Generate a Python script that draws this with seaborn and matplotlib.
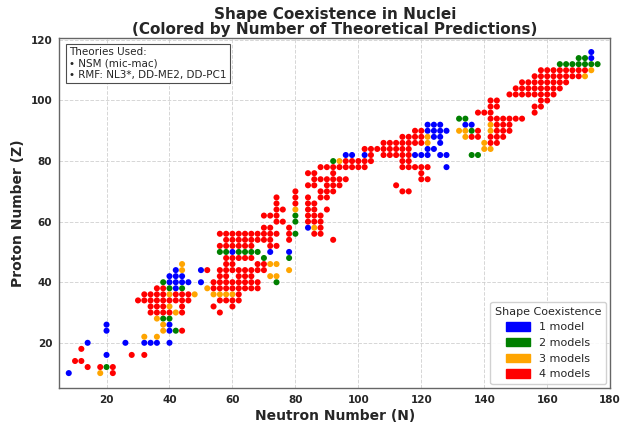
import pandas as pd
import seaborn as sns
import matplotlib.pyplot as plt
from matplotlib.patches import Patch

# Even-even nuclei showing shape coexistence, rows keyed by proton number Z,
# values are neutron numbers N.  One dict per number of agreeing models.
ONE_MODEL = {
    10: [8], 16: [20], 20: [14, 26, 32, 34, 36, 40], 24: [20, 40], 26: [20, 40],
    38: [42], 40: [40, 42, 44, 46, 50], 42: [40, 42, 44], 44: [42, 50],
    50: [60, 72, 78], 58: [84], 78: [128],
    82: [96, 98, 102, 118, 120, 122, 126, 128], 84: [122, 124], 86: [126],
    88: [124, 126], 90: [122, 124, 126, 128], 92: [122, 124, 126, 134, 136],
    114: [174], 116: [174],
}
TWO_MODELS = {
    12: [20], 24: [42], 28: [38, 40], 38: [40, 44], 40: [38, 74], 48: [70, 78],
    50: [56, 58, 62, 64, 66, 68], 56: [80], 60: [80], 62: [80], 80: [92],
    82: [136, 138], 90: [136], 94: [132, 134],
    112: [164, 166, 168, 170, 172, 174, 176], 114: [170, 172],
}
THREE_MODELS = {
    10: [18], 22: [32, 36], 24: [38], 26: [38], 28: [36], 30: [42], 32: [40],
    36: [40, 48, 54, 56, 58, 60], 38: [52], 42: [72, 74], 44: [44, 78],
    46: [44, 72, 74], 58: [86], 64: [80], 80: [94], 84: [140, 142],
    86: [122, 140], 88: [122, 134], 90: [132, 134, 142], 92: [142],
    108: [172], 110: [174],
}
FOUR_MODELS = {
    10: [22], 12: [14, 18, 22], 14: [10, 12], 16: [28, 32], 18: [12], 24: [44],
    30: [34, 36, 38, 40, 44, 56],
    32: [34, 36, 38, 44, 54, 60],
    34: [30, 32, 34, 36, 38, 40, 42, 44, 46, 56, 58, 60, 62],
    36: [32, 34, 36, 38, 42, 44, 46, 62],
    38: [36, 38, 54, 56, 58, 60, 62, 64, 66, 68],
    40: [54, 56, 58, 60, 62, 64, 66, 68],
    42: [56, 58, 62, 64, 66],
    44: [52, 56, 58, 60, 62, 64, 66, 68, 70],
    46: [58, 60, 68, 70],
    48: [58, 60, 62, 64, 66],
    52: [56, 58, 60, 62, 64, 66, 72, 74],
    54: [58, 60, 62, 64, 66, 68, 70, 72, 78, 92],
    56: [56, 58, 60, 62, 64, 66, 68, 70, 72, 74, 78, 86, 88],
    58: [70, 72, 78, 88],
    60: [74, 76, 84, 86, 88],
    62: [70, 72, 74, 84, 86, 88],
    64: [74, 76, 84, 86, 90],
    66: [74, 80, 84, 86],
    68: [74, 80, 84, 88, 90],
    70: [80, 88, 90, 92, 114, 116],
    72: [84, 86, 90, 92, 94, 112],
    74: [86, 88, 90, 92, 94, 96, 120, 122],
    76: [84, 86, 92, 120],
    78: [88, 90, 92, 94, 96, 98, 100, 102, 114, 116, 118, 120, 122],
    80: [96, 98, 100, 102, 104, 114, 116],
    82: [104, 108, 110, 112, 114, 116],
    84: [102, 104, 106, 108, 110, 112, 114, 116],
    86: [108, 110, 112, 114, 116, 118, 120, 142, 144],
    88: [114, 116, 118, 120, 136, 138, 142, 144, 146],
    90: [118, 120, 138, 144, 146, 148],
    92: [144, 146, 148],
    94: [142, 144, 146, 148, 150, 152],
    96: [138, 140, 142, 156],
    98: [142, 144, 156, 158],
    100: [142, 144, 158, 160],
    102: [148, 150, 152, 154, 156, 158, 160, 162],
    104: [150, 152, 154, 156, 158, 160, 162, 164],
    106: [152, 154, 156, 158, 160, 162, 164, 166],
    108: [156, 158, 160, 162, 164, 166, 168, 170],
    110: [158, 160, 162, 164, 166, 168, 170, 172],
}

LABELS = ["1 model", "2 models", "3 models", "4 models"]
COLORS = ["blue", "green", "orange", "red"]
THEORIES = "Theories Used:\n• NSM (mic-mac)\n• RMF: NL3*, DD-ME2, DD-PC1"


def to_frame():
    rows = []
    for label, table in zip(LABELS, [ONE_MODEL, TWO_MODELS, THREE_MODELS, FOUR_MODELS]):
        for z, ns in table.items():
            for n in ns:
                rows.append({"N": n, "Z": z, "models": label})
    return pd.DataFrame(rows)


sns.set_style("whitegrid")
plt.rcParams["font.family"] = ["DejaVu Sans"]

df = to_frame()

fig = plt.figure(figsize=(6.31, 4.22), dpi=100)
ax = fig.add_axes([0.094, 0.080, 0.873, 0.829])

sns.scatterplot(
    data=df, x="N", y="Z", hue="models", hue_order=LABELS,
    palette=dict(zip(LABELS, COLORS)), s=19, linewidth=0, legend=False, ax=ax,
)

ax.set_xlim(5, 180)
ax.set_ylim(5, 120.5)
ax.set_xticks(range(20, 181, 20))
ax.set_yticks(range(20, 121, 20))
ax.grid(True, ls="--", lw=0.7, color="0.8", alpha=0.8)
for sp in ax.spines.values():
    sp.set_color("0.4")
    sp.set_linewidth(1.0)
ax.tick_params(length=3, width=0.8, color="0.3", labelsize=7.5, pad=2)
for lab in ax.get_xticklabels() + ax.get_yticklabels():
    lab.set_fontweight("bold")

ax.set_xlabel("Neutron Number (N)", fontsize=10, fontweight="bold", labelpad=3)
ax.set_ylabel("Proton Number (Z)", fontsize=10, fontweight="bold", labelpad=4)
ax.set_title("Shape Coexistence in Nuclei\n(Colored by Number of Theoretical Predictions)",
             fontsize=11, fontweight="bold", pad=3, linespacing=1.0)

handles = [Patch(color=c, label=l) for l, c in zip(LABELS, COLORS)]
leg = ax.legend(handles=handles, title="Shape Coexistence", loc="lower right",
                fontsize=8, title_fontsize=8, frameon=True, framealpha=0.9,
                handlelength=2.2, handleheight=0.8, borderaxespad=0.4)
leg.get_frame().set_edgecolor("0.8")

ax.text(0.018, 0.975, THEORIES, transform=ax.transAxes, fontsize=7.5, va="top", ha="left",
        bbox=dict(boxstyle="square,pad=0.3", facecolor="white", edgecolor="0.3", lw=0.8))

fig.savefig("out.png", dpi=100)
